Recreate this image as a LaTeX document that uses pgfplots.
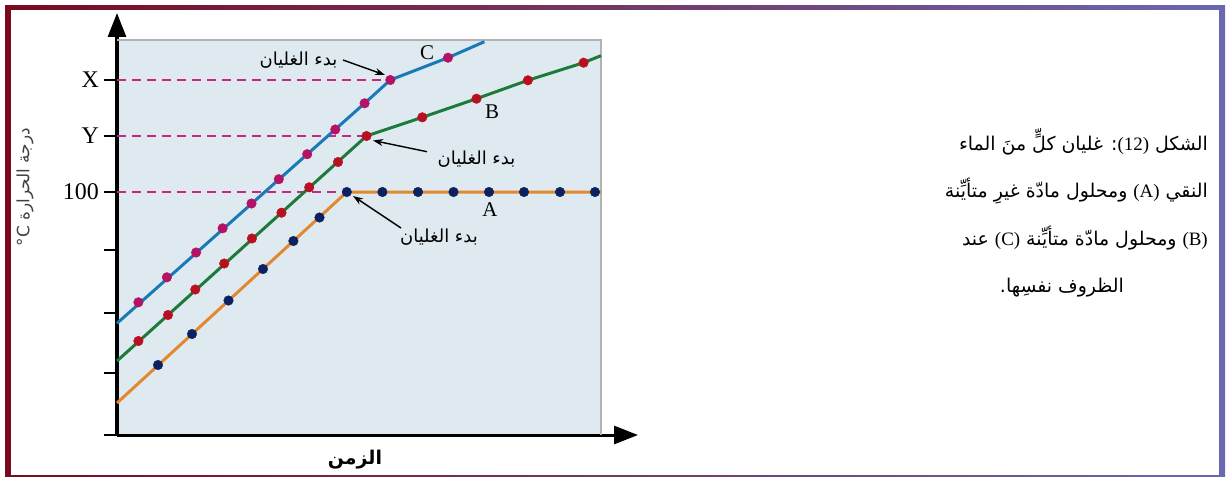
\documentclass[border=0pt]{standalone}
\usepackage{fontspec}
\setmainfont{Liberation Serif}
\newfontfamily\arabicfont[Script=Arabic]{DejaVu Sans}
\usepackage{pgfplots}
\pgfplotsset{compat=1.18}
\usetikzlibrary{arrows.meta}
\TeXXeTstate=1

\definecolor{frameL}{RGB}{122,10,30}
\definecolor{frameM}{RGB}{124,44,140}
\definecolor{frameR}{RGB}{106,104,176}
\definecolor{bgblue}{RGB}{222,234,240}
\definecolor{lineA}{RGB}{226,137,48}
\definecolor{dotA}{RGB}{12,34,96}
\definecolor{lineB}{RGB}{30,122,58}
\definecolor{dotB}{RGB}{184,16,32}
\definecolor{lineC}{RGB}{26,122,184}
\definecolor{dotC}{RGB}{180,18,100}
\definecolor{dashc}{RGB}{196,40,130}

\newcommand\lat[1]{\beginL{\rmfamily #1}\endL}
\newcommand\boil{{\arabicfont\fontsize{18}{20}\selectfont\beginR بدء الغليان\endR}}

\begin{document}
\begin{tikzpicture}
\useasboundingbox (0,0) rectangle (1229bp,-477bp);
\begin{scope}[x=1bp,y=-1bp]
  % frame
  \fill[left color=frameL, middle color=frameM, right color=frameR] (5,5) rectangle (1225,477);
  \fill[white] (11,10) rectangle (1219,475);
  % caption
  \begin{scope}[every node/.style={inner sep=0pt, font=\arabicfont\fontsize{19}{22}\selectfont}]
    \node[anchor=base east] at (1208,150) {\beginR الشكل \lat{(12)}: غليان كلٍّ منَ الماء\endR};
    \node[anchor=base east] at (1208,197) {\beginR النقي \lat{(A)} ومحلول مادّة غيرِ متأيِّنة\endR};
    \node[anchor=base east] at (1208,245) {\beginR \lat{(B)} ومحلول مادّة متأيِّنة \lat{(C)} عند\endR};
    \node[anchor=base] at (1062,292) {\beginR الظروف نفسِها\beginL.\endL\endR};
  \end{scope}
\end{scope}

\begin{axis}[
    at={(117bp,-435bp)}, anchor=south west,
    scale only axis, width=484bp, height=395bp,
    xmin=0, xmax=484, ymin=0, ymax=395,
    axis x line=bottom, axis y line=left,
    x axis line style={line width=3bp, -{Triangle[length=24bp,width=18bp]}, shorten >=-37bp},
    y axis line style={line width=3bp, -{Triangle[length=24bp,width=18bp]}, shorten >=-27bp},
    xtick=\empty,
    ytick={0,62,122,185,243,299,355},
    yticklabels={,,,,100,Y,X},
    tick align=outside, major tick length=13bp,
    y tick style={line width=1.3bp, black},
    yticklabel style={font=\fontsize{24}{26}\selectfont, inner sep=1pt, xshift=-4bp},
    axis background/.style={fill=bgblue},
    clip=false,
]
% plot frame, top and right
\draw[gray!60, line width=1.2bp] (axis cs:0,395) -- (axis cs:484,395) -- (axis cs:484,0);

% boiling-point guides
\draw[dashc, line width=1.4bp, dash pattern=on 9bp off 6bp] (axis cs:0,355) -- (axis cs:273.3,355);
\draw[dashc, line width=1.4bp, dash pattern=on 9bp off 6bp] (axis cs:0,299) -- (axis cs:249.5,299);
\draw[dashc, line width=1.4bp, dash pattern=on 9bp off 6bp] (axis cs:0,243) -- (axis cs:229.8,243);

% A: pure water
\addplot[lineA, line width=3bp, no marks] coordinates {
  (0,32) (229.8,243) (484,243)
};
\addplot[only marks, mark=*, mark size=4.8bp, dotA] coordinates {
  (41,70) (75,101) (111.5,134.5) (146,166) (176.4,194) (202.5,217.5) (229.8,243)
  (265.4,243) (301,243) (336.5,243) (372,243) (407,243) (443,243) (478,243)
};

% B: non-ionic solute
\addplot[lineB, line width=3bp, no marks] coordinates {
  (0,74) (249.5,299) (305.3,317.7) (359.5,336.3) (410.9,354.7) (466.6,372.3) (484,379.3)
};
\addplot[only marks, mark=*, mark size=4.8bp, dotB] coordinates {
  (21.4,94) (51,120) (78.3,145.5) (107.2,171.5) (134.9,196.5) (164.5,222.3)
  (192.2,247.7) (221,273) (249.5,299)
  (305.3,317.7) (359.5,336.3) (410.9,354.7) (466.6,372.3)
};

% C: ionic solute
\addplot[lineC, line width=3bp, no marks] coordinates {
  (0,111.7) (247.6,331.7) (273.3,355) (331,377.3) (367.4,393.3)
};
\addplot[only marks, mark=*, mark size=4.8bp, dotC] coordinates {
  (21.4,132.7) (49.9,157.7) (79.1,182.5) (105.6,206.7) (134.5,231.5) (161.8,255.8)
  (190.2,280.8) (218.3,305.5) (247.6,331.7) (273.3,355) (331,377.3)
};

% curve names
\node[font=\fontsize{21}{23}\selectfont] at (axis cs:310,382) {C};
\node[font=\fontsize{21}{23}\selectfont] at (axis cs:375,323) {B};
\node[font=\fontsize{21}{23}\selectfont] at (axis cs:373,225) {A};

% annotations
\node at (axis cs:181.5,375) {\boil};
\draw[line width=1.4bp, -{Stealth[length=10bp,width=7bp]}] (axis cs:226,375) -- (axis cs:268,360);
\node at (axis cs:359.5,276) {\boil};
\draw[line width=1.4bp, -{Stealth[length=10bp,width=7bp]}] (axis cs:310,283.3) -- (axis cs:256,294.5);
\node at (axis cs:322,198) {\boil};
\draw[line width=1.4bp, -{Stealth[length=10bp,width=7bp]}] (axis cs:284,207) -- (axis cs:236,239);

% axis labels
\node[rotate=90, text=black!75, font=\arabicfont\fontsize{17}{19}\selectfont] at (axis cs:-92,248)
  {\beginR درجة الحرارة \beginL °C\endL\endR};
\node[font=\arabicfont\bfseries\fontsize{19}{21}\selectfont] at (axis cs:238,-25) {\beginR الزمن\endR};
\end{axis}
\end{tikzpicture}
\end{document}
